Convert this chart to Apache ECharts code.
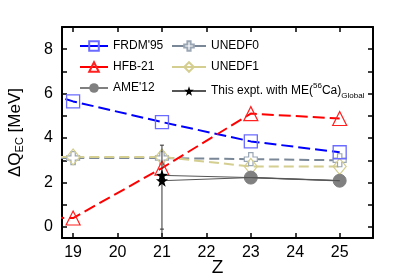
<!DOCTYPE html>
<html><head><meta charset="utf-8">
<script src="https://cdn.jsdelivr.net/npm/echarts@6/dist/echarts.min.js"></script>
<style>html,body{margin:0;padding:0;background:#fff}#c{width:415px;height:280px}</style>
</head><body><div id="c"></div>
<script>
const zValues = [17, 19, 21, 23, 25];
const frdm95 = [6.9, 5.65, 4.72, 3.85, 3.36];
const hfb21 = [0.45, 0.4, 2.65, 5.1, 4.88];
const unedf0 = [3.1, 3.1, 3.1, 3.05, 3.0];
const unedf1 = [3.15, 3.15, 3.15, 2.72, 2.72];
const ameZ = [23, 25];
const ame12 = [2.22, 2.08];
const exptZ = [21, 23, 25];
const exptA = [2.32, 2.22, 2.08];
const exptB = [2.08, 2.22, 2.08];
const errZ = [21];
const errHigh = [3.68];
const errLow = [-0.1];
const xTicks = [19, 20, 21, 22, 23, 24, 25];
const yLabels = [0, 2, 4, 6, 8];
const yTicks = [0, 1, 2, 3, 4, 5, 6, 7, 8];

const FONT = 'Liberation Sans, Arial, sans-serif';
const crossPath = 'path://M-1,-3L1,-3L1,-1L3,-1L3,1L1,1L1,3L-1,3L-1,1L-3,1L-3,-1L-1,-1Z';
const starPath = 'path://M0,-10L2.35,-3.24L9.51,-3.09L3.8,1.24L5.88,8.09L0,4L-5.88,8.09L-3.8,1.24L-9.51,-3.09L-2.35,-3.24Z';

function pairs(xs, ys) { return xs.map((x, i) => [x, ys[i]]); }

const chart = echarts.init(document.getElementById('c'), null, {renderer: 'canvas'});
const axisLine = {show: true, onZero: false, lineStyle: {color: '#000', width: 2}};
const tickStyle = {color: '#000', width: 1.5};

const option = {
  backgroundColor: '#fff',
  animation: false,
  grid: {left: 62, right: 42, top: 27, bottom: 42, containLabel: false, outerBoundsMode: 'none'},
  xAxis: [{
    type: 'value', min: 18.75, max: 25.75, position: 'bottom',
    axisLine: axisLine,
    axisTick: {show: true, inside: true, length: 5, lineStyle: tickStyle, customValues: xTicks},
    axisLabel: {customValues: xTicks, color: '#000', fontSize: 16, fontFamily: FONT, margin: 7},
    splitLine: {show: false},
    name: 'Z', nameLocation: 'middle', nameGap: 20, nameMoveOverlap: false,
    nameTextStyle: {color: '#000', fontSize: 19, fontFamily: FONT}
  }, {
    type: 'value', min: 18.75, max: 25.75, position: 'top',
    axisLine: axisLine,
    axisTick: {show: true, inside: true, length: 5, lineStyle: tickStyle, customValues: xTicks},
    axisLabel: {show: false}, splitLine: {show: false}
  }],
  yAxis: [{
    type: 'value', min: -0.5, max: 9, position: 'left',
    axisLine: axisLine,
    axisTick: {show: true, inside: true, length: 5, lineStyle: tickStyle, customValues: yTicks},
    axisLabel: {customValues: yLabels, color: '#000', fontSize: 16, fontFamily: FONT, margin: 9},
    splitLine: {show: false},
    name: '{a|ΔQ}{s|EC}{a| [MeV]}', nameLocation: 'middle', nameGap: 37, nameRotate: 90,
    nameTextStyle: {color: '#000', fontFamily: FONT, rich: {
      a: {fontSize: 17, fontFamily: FONT, color: '#000'},
      s: {fontSize: 11, fontFamily: FONT, color: '#000', verticalAlign: 'bottom', padding: [8, 0, 0, 0]}
    }}
  }, {
    type: 'value', min: -0.5, max: 9, position: 'right',
    axisLine: axisLine,
    axisTick: {show: true, inside: true, length: 5, lineStyle: tickStyle, customValues: yTicks},
    axisLabel: {show: false}, splitLine: {show: false}
  }],
  legend: [{
    orient: 'vertical', left: 74, top: 35, itemWidth: 28, itemHeight: 12, itemGap: 9,
    textStyle: {fontSize: 12, fontFamily: FONT, color: '#000'},
    data: [
      {name: "FRDM'95", lineStyle: {type: 'solid'}},
      {name: 'HFB-21', lineStyle: {type: 'solid'}},
      {name: "AME'12"}
    ]
  }, {
    orient: 'vertical', left: 166, top: 35, itemWidth: 34, itemHeight: 12, itemGap: 9,
    textStyle: {fontSize: 12, fontFamily: FONT, color: '#000', rich: {
      n: {fontSize: 12, fontFamily: FONT, color: '#000'},
      sup: {fontSize: 8, fontFamily: FONT, color: '#000', verticalAlign: 'top', padding: [0, 0, 8, 0]},
      sub: {fontSize: 8, fontFamily: FONT, color: '#000', verticalAlign: 'bottom', padding: [10, 0, 0, 0]}
    }},
    formatter: function (name) {
      if (name === 'expt') return '{n|This expt. with ME(}{sup|56}{n|Ca)}{sub|Global}';
      return name;
    },
    data: [
      {name: 'UNEDF0', lineStyle: {type: 'solid'}},
      {name: 'UNEDF1', lineStyle: {type: 'solid'}},
      {name: 'expt'}
    ]
  }],
  series: [
    {
      name: 'UNEDF0', type: 'line', data: pairs(zValues, unedf0), clip: true,
      symbol: crossPath, symbolSize: 13,
      lineStyle: {color: '#7a8796', width: 2, type: [10, 5]},
      itemStyle: {color: '#fff', borderColor: '#9aa6b4', borderWidth: 1.2},
      z: 3
    },
    {
      name: 'UNEDF1', type: 'line', data: pairs(zValues, unedf1), clip: true,
      symbol: 'diamond', symbolSize: [13, 16],
      lineStyle: {color: '#d4ce90', width: 2, type: [10, 5]},
      itemStyle: {color: 'rgba(255,255,255,0)', borderColor: '#d4ce90', borderWidth: 1.2},
      z: 3
    },
    {
      name: "FRDM'95", type: 'line', data: pairs(zValues, frdm95), clip: true,
      symbol: 'rect', symbolSize: 13,
      lineStyle: {color: '#0000ff', width: 2, type: [12, 5]},
      itemStyle: {color: 'rgba(255,255,255,0)', borderColor: '#6b6bff', borderWidth: 1.3},
      z: 4
    },
    {
      name: 'HFB-21', type: 'line', data: pairs(zValues, hfb21), clip: true,
      symbol: 'triangle', symbolSize: 14,
      lineStyle: {color: '#ff0000', width: 2, type: [12, 5]},
      itemStyle: {color: 'rgba(255,255,255,0)', borderColor: '#ff2020', borderWidth: 1.2},
      z: 4
    },
    {
      name: "AME'12", type: 'line', data: pairs(ameZ, ame12), clip: true,
      symbol: 'circle', symbolSize: 13,
      lineStyle: {color: '#808080', width: 1.5},
      itemStyle: {color: '#808080', borderColor: '#808080'},
      z: 3
    },
    {
      name: 'expt', type: 'line', clip: true,
      data: pairs(exptZ, exptA).map((p, i) => ({value: p, symbol: i === 0 ? starPath : 'none'})),
      symbol: starPath, symbolSize: 12,
      lineStyle: {color: '#555', width: 1},
      itemStyle: {color: '#000'},
      z: 5
    },
    {
      name: 'exptB', type: 'line', clip: true,
      data: pairs(exptZ, exptB).map((p, i) => ({value: p, symbol: i === 0 ? starPath : 'none'})),
      symbolSize: 12,
      lineStyle: {color: '#555', width: 1},
      itemStyle: {color: '#000'},
      z: 5
    },
    {
      name: 'err', type: 'custom', clip: true, z: 5,
      data: errZ.map((x, i) => [x, errLow[i], errHigh[i]]),
      renderItem: function (params, api) {
        const top = api.coord([api.value(0), api.value(2)]);
        const low = api.coord([api.value(0), api.value(1)]);
        const bottom = api.coord([api.value(0), -0.5]);
        const st = {stroke: '#333', lineWidth: 1};
        return {type: 'group', children: [
          {type: 'line', shape: {x1: top[0], y1: top[1], x2: bottom[0], y2: bottom[1]}, style: st},
          {type: 'line', shape: {x1: top[0] - 2, y1: top[1], x2: top[0] + 2, y2: top[1]}, style: st},
          {type: 'line', shape: {x1: low[0] - 2, y1: low[1], x2: low[0] + 2, y2: low[1]}, style: st}
        ]};
      }
    }
  ]
};
chart.setOption(option);
</script>
</body></html>
